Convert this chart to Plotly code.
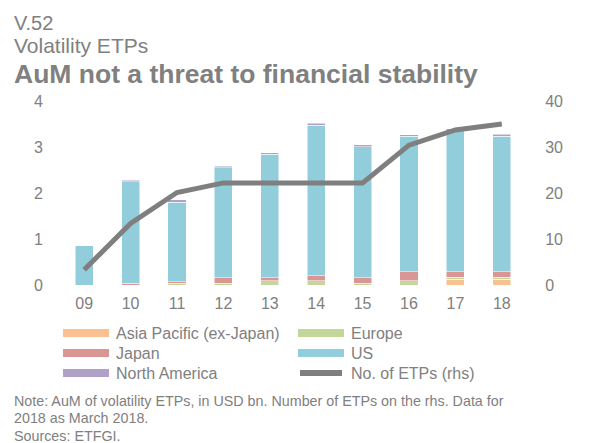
import plotly.graph_objects as go

years = ["09", "10", "11", "12", "13", "14", "15", "16", "17", "18"]
asia_pacific = [0, 0, 0, 0, 0, 0, 0, 0, 0.12, 0.12]
europe = [0, 0, 0.035, 0.04, 0.09, 0.09, 0.04, 0.09, 0.05, 0.05]
japan = [0, 0.035, 0.035, 0.115, 0.07, 0.115, 0.115, 0.2, 0.115, 0.115]
us = [0.85, 2.21, 1.73, 2.39, 2.68, 3.27, 2.85, 2.94, 3.07, 2.95]
north_america = [0, 0.03, 0.05, 0.04, 0.04, 0.04, 0.04, 0.04, 0.04, 0.04]
num_etps = [3.3, 13.4, 20.1, 22.2, 22.2, 22.2, 22.2, 30.4, 33.7, 35.0]

left_ticks = [0, 1, 2, 3, 4]
right_ticks = [0, 10, 20, 30, 40]

GREY = "#808080"
FONT = "Liberation Sans, Arial, sans-serif"
W, H = 589, 443
ML, MR, MT, MB = 61, 64, 101, 158

series = [
    ("Asia Pacific (ex-Japan)", asia_pacific, "#FAC090"),
    ("Europe", europe, "#C4D79B"),
    ("Japan", japan, "#DA9694"),
    ("US", us, "#92CDDC"),
    ("North America", north_america, "#B1A0C7"),
]

fig = go.Figure()
for name, vals, col in series:
    fig.add_trace(go.Bar(
        x=years, y=vals, name=name, marker_color=col,
        marker_line=dict(color="white", width=0.5), yaxis="y",
    ))
fig.add_trace(go.Scatter(
    x=years, y=num_etps, name="No. of ETPs (rhs)", mode="lines",
    line=dict(color="#7F7F7F", width=5), yaxis="y2",
))

def px(xp):
    return (xp - ML) / (W - ML - MR)

def py(yp):
    return (H - MB - yp) / (H - MT - MB)

shapes = []
annotations = []
legend_items = [
    ("Asia Pacific (ex-Japan)", "#FAC090", 63, 333, "bar"),
    ("Europe", "#C4D79B", 298, 333, "bar"),
    ("Japan", "#DA9694", 63, 353, "bar"),
    ("US", "#92CDDC", 298, 353, "bar"),
    ("North America", "#B1A0C7", 63, 373, "bar"),
    ("No. of ETPs (rhs)", "#7F7F7F", 298, 373, "line"),
]
for label, col, x0, yc, kind in legend_items:
    if kind == "bar":
        shapes.append(dict(type="rect", xref="paper", yref="paper",
                           x0=px(x0), x1=px(x0 + 46), y0=py(yc + 4), y1=py(yc - 4),
                           fillcolor=col, line=dict(width=0)))
    else:
        shapes.append(dict(type="line", xref="paper", yref="paper",
                           x0=px(x0 + 2), x1=px(x0 + 44), y0=py(yc), y1=py(yc),
                           line=dict(color=col, width=6)))
    annotations.append(dict(text=label, xref="paper", yref="paper",
                            x=px(x0 + 51), y=py(yc), xanchor="left", yanchor="middle",
                            showarrow=False, font=dict(size=16, color=GREY, family=FONT)))

texts = [
    ("V.52", 23, 20, False),
    ("Volatility ETPs", 45, 21, False),
    ("<b>AuM not a threat to financial stability</b>", 74, 26.5, True),
    ("Note: AuM of volatility ETPs, in USD bn. Number of ETPs on the rhs. Data for", 401, 14.3, False),
    ("2018 as March 2018.", 418, 14.3, False),
    ("Sources: ETFGI.", 436, 14.3, False),
]
for t, yc, sz, b in texts:
    annotations.append(dict(text=t, xref="paper", yref="paper",
                            x=px(12), y=py(yc), xanchor="left", yanchor="middle",
                            showarrow=False, font=dict(size=sz, color=GREY, family=FONT)))

fig.update_layout(
    width=W, height=H,
    margin=dict(l=ML, r=MR, t=MT, b=MB),
    barmode="stack", bargap=0.61,
    showlegend=False,
    paper_bgcolor="white", plot_bgcolor="white",
    font=dict(family=FONT, color=GREY, size=16),
    xaxis=dict(type="category", showgrid=False, zeroline=False, showline=False,
               ticks="outside", ticklen=4, tickcolor="rgba(0,0,0,0)",
               tickfont=dict(size=16, color=GREY)),
    yaxis=dict(range=[0, 4], tickvals=left_ticks, showgrid=False, zeroline=False,
               showline=False, ticks="outside", ticklen=14, tickcolor="rgba(0,0,0,0)",
               tickfont=dict(size=16, color=GREY)),
    yaxis2=dict(range=[0, 40], tickvals=right_ticks, overlaying="y", side="right",
                showgrid=False, zeroline=False, showline=False, ticks="outside",
                ticklen=16, tickcolor="rgba(0,0,0,0)", tickfont=dict(size=16, color=GREY)),
    shapes=shapes, annotations=annotations,
)

fig.write_html("out.html", config={"displayModeBar": False},
               post_script="document.body.style.margin='0';document.body.style.overflow='hidden';")
